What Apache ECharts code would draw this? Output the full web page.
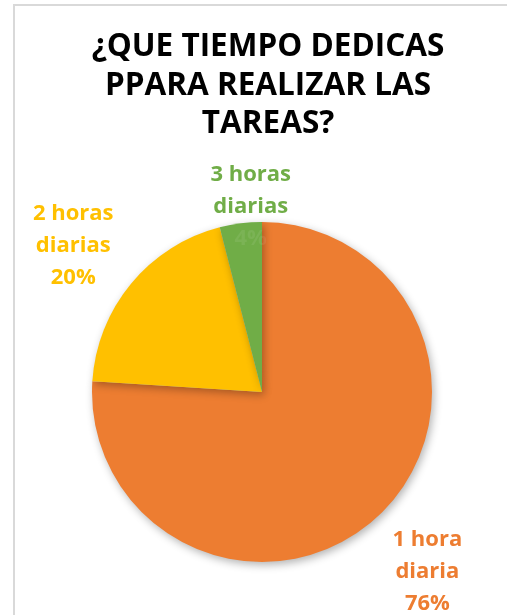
<!DOCTYPE html>
<html>
<head>
<meta charset="utf-8">
<script src="https://cdn.jsdelivr.net/npm/echarts@6/dist/echarts.min.js"></script>
<style>
html,body{margin:0;padding:0;background:#fff;}
#chart{width:507px;height:615px;}
</style>
</head>
<body>
<div id="chart"></div>
<script>
const titleText = '¿QUE TIEMPO DEDICAS\nPPARA REALIZAR LAS\nTAREAS?';
const categories = ['1 hora\ndiaria', '2 horas\ndiarias', '3 horas\ndiarias'];
const values = [76, 20, 4];
const colors = ['#ED7D31', '#FFC000', '#70AD47'];
const labelOffsets = [[44, 56], [-34, -76], [15, -17]];

const chart = echarts.init(document.getElementById('chart'), null, {renderer: 'canvas'});
const FONT = 'Open Sans';
chart.setOption({
  animation: false,
  backgroundColor: '#fff',
  graphic: [{
    type: 'rect',
    shape: {x: 14, y: 5, width: 600, height: 700},
    style: {fill: 'none', stroke: '#D9D9D9', lineWidth: 2},
    silent: true, z: 0
  }],
  title: {
    text: titleText,
    left: 263, top: 23,
    textAlign: 'center',
    textStyle: {fontFamily: FONT, fontWeight: 'bold', fontSize: 31.5, lineHeight: 38.5, color: '#000'}
  },
  series: [{
    type: 'pie',
    center: [262, 392],
    radius: 170,
    startAngle: 90,
    clockwise: true,
    data: categories.map((c, i) => ({
      name: c, value: values[i],
      itemStyle: {color: colors[i]},
      label: {color: colors[i]}
    })),
    itemStyle: {shadowBlur: 8, shadowColor: 'rgba(0,0,0,0.3)', shadowOffsetX: 2, shadowOffsetY: 3},
    label: {
      show: true, position: 'outside',
      formatter: p => p.dataIndex === 2
        ? p.name + '\n{hid|' + p.value + '%}'
        : p.name + '\n' + p.value + '%',
      fontFamily: FONT, fontWeight: 'bold', fontSize: 22, lineHeight: 32,
      align: 'center',
      rich: {hid: {color: 'rgba(255,255,255,0.08)', fontFamily: FONT, fontWeight: 'bold', fontSize: 22, lineHeight: 32}}
    },
    labelLine: {show: false, length: 0, length2: 0},
    labelLayout: p => ({align: 'center', dx: labelOffsets[p.dataIndex][0], dy: labelOffsets[p.dataIndex][1]})
  }]
});
</script>
</body>
</html>
